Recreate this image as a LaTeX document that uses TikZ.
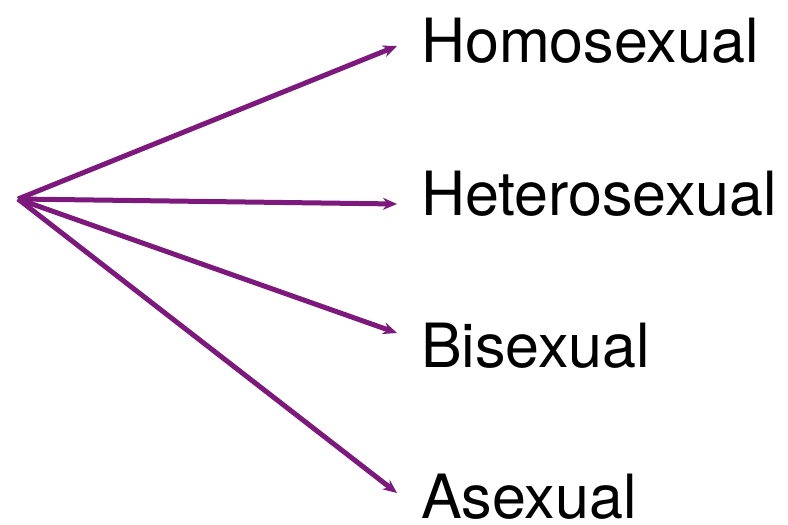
\documentclass[tikz,border=0pt]{standalone}
\usepackage{fontspec}
\setmainfont{TeX Gyre Heros}
\usetikzlibrary{arrows.meta}
\definecolor{arrowpurple}{RGB}{125,25,125}
\begin{document}
\begin{tikzpicture}[x=1pt,y=-1pt,
  label/.style={anchor=base west,inner sep=0pt,font=\fontsize{61}{72}\selectfont,text=black},
  conn/.style={draw=arrowpurple,line width=5pt,-{Stealth[length=14pt,width=12pt]}}]
\useasboundingbox (0,0) rectangle (788,525);
\coordinate (o) at (18,199);
\node[label] (homo) at (421,62) {Homosexual};
\node[label] (hetero) at (421,215) {Heterosexual};
\node[label] (bi) at (421,367) {Bisexual};
\node[label] (a) at (421,518) {Asexual};
\coordinate (t1) at (397,46);
\coordinate (t2) at (397,204);
\coordinate (t3) at (397,333);
\coordinate (t4) at (397,493);
\draw[conn] (o) -- (t1);
\draw[conn] (o) -- (t2);
\draw[conn] (o) -- (t3);
\draw[conn] (o) -- (t4);
\end{tikzpicture}
\end{document}
